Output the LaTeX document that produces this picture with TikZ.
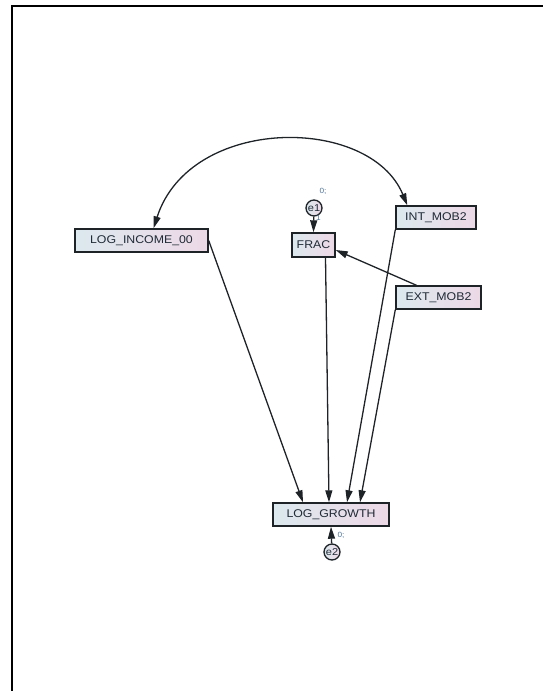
\documentclass[tikz,border=0pt]{standalone}
\usepackage{fontspec}
\setmainfont[FakeStretch=1.1]{Liberation Sans}
\usetikzlibrary{arrows.meta}
\definecolor{boxL}{HTML}{DCE9EE}
\definecolor{boxR}{HTML}{EDD8E6}
\definecolor{edge}{HTML}{1E2328}
\definecolor{txt}{HTML}{1E2A35}
\definecolor{lbl}{HTML}{4F7396}
\tikzset{
  var/.style={draw=edge, line width=1.4pt, left color=boxL, right color=boxR, inner sep=0pt,
    font=\fontsize{11.2}{13}\selectfont, text=txt},
  err/.style={circle, draw=edge, line width=1.3pt, left color=boxL, right color=boxR, inner sep=0pt,
    minimum size=16pt, font=\fontsize{10}{11}\selectfont, text=txt},
  path/.style={draw=edge, line width=1.3pt, -{Triangle[length=12pt,width=7pt]}},
  cov/.style={draw=edge, line width=1.3pt, {Triangle[length=12pt,width=7pt]}-{Triangle[length=12pt,width=7pt]}},
  small/.style={font=\fontsize{7.5}{8}\selectfont, text=lbl, inner sep=0pt},
  frame/.style={draw=black, line width=2pt}
}
\begin{document}
\begin{tikzpicture}[x=1pt,y=-1pt]
\useasboundingbox (0,0) rectangle (543,691);
\draw[frame] (12,691) -- (12,6) -- (543,6);

\node[var, minimum width=133pt, minimum height=23pt] (li) at (141.5,240.5) {LOG\_INCOME\_00};
\node[var, minimum width=43pt, minimum height=24pt] (frac) at (313.5,245) {FRAC};
\node[var, minimum width=80pt, minimum height=23pt] (imob) at (436,217.5) {INT\_MOB2};
\node[var, minimum width=85pt, minimum height=23pt] (emob) at (438.5,297.5) {EXT\_MOB2};
\node[var, minimum width=116pt, minimum height=23pt] (lg) at (331,514.5) {LOG\_GROWTH};
\node[err] (e1) at (314,208) {e1};
\node[err] (e2) at (332,552) {e2};

\node[small] (l1) at (323,191) {0;};
\node[small] (l1b) at (318.5,218) {1};
\node[small] (l2) at (341,535) {0;};

\draw[path] (e1) -- (frac.north);
\draw[path] (e2) -- (lg.south);
\draw[path] (li.east) -- ([xshift=-28pt]lg.north);
\draw[path] ([xshift=12pt]frac.south) -- ([xshift=-2pt]lg.north);
\draw[path] (imob.south west) -- ([xshift=16pt]lg.north);
\draw[path] (emob.south west) -- ([xshift=29pt]lg.north);
\draw[path] ([xshift=-22pt]emob.north) -- ([yshift=-5pt]frac.east);
\draw[cov] ([xshift=12pt]li.north) .. controls (190,115) and (370,115) .. ([xshift=12pt]imob.north west);
\end{tikzpicture}
\end{document}
